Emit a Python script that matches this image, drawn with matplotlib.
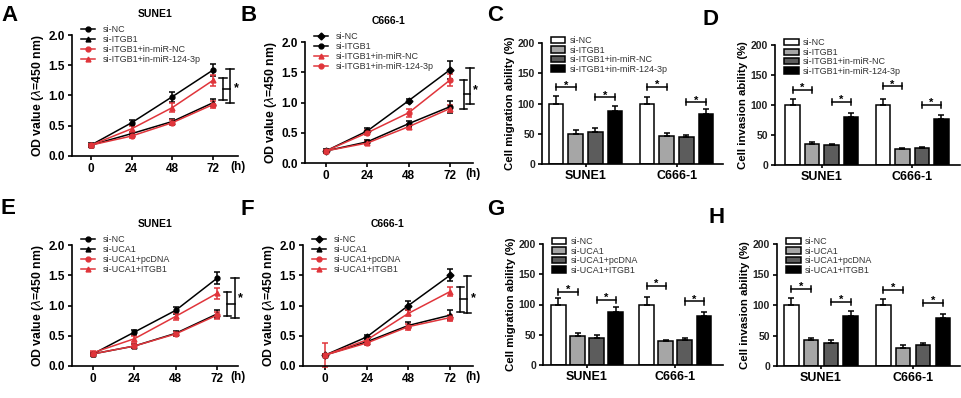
import numpy as np
import matplotlib
matplotlib.use('Agg')
import matplotlib.pyplot as plt
from matplotlib.patches import Patch
from matplotlib.lines import Line2D

plt.rcParams['font.family'] = ['Liberation Sans', 'DejaVu Sans']
plt.rcParams['axes.linewidth'] = 1.2

W, H = 962, 398
RED = '#e0353b'

hours = [0, 24, 48, 72]

# --- panel A (SUNE1, ITGB1 rescue) ---
labels_A = ['si-NC', 'si-ITGB1', 'si-ITGB1+in-miR-NC', 'si-ITGB1+in-miR-124-3p']
A_vals = [[0.18, 0.55, 0.98, 1.42],
          [0.18, 0.37, 0.57, 0.88],
          [0.18, 0.33, 0.55, 0.85],
          [0.18, 0.45, 0.80, 1.25]]
A_errs = [[0.03, 0.04, 0.08, 0.10],
          [0.02, 0.03, 0.04, 0.06],
          [0.02, 0.03, 0.04, 0.06],
          [0.02, 0.05, 0.08, 0.09]]

# --- panel B (C666-1) ---
B_vals = [[0.20, 0.53, 1.03, 1.54],
          [0.20, 0.35, 0.65, 0.93],
          [0.20, 0.33, 0.60, 0.90],
          [0.20, 0.50, 0.83, 1.37]]
B_errs = [[0.03, 0.05, 0.03, 0.15],
          [0.02, 0.03, 0.05, 0.10],
          [0.02, 0.03, 0.04, 0.06],
          [0.02, 0.04, 0.07, 0.10]]

# --- panel E (SUNE1, UCA1) ---
labels_E = ['si-NC', 'si-UCA1', 'si-UCA1+pcDNA', 'si-UCA1+ITGB1']
E_vals = [[0.20, 0.56, 0.92, 1.45],
          [0.20, 0.33, 0.54, 0.86],
          [0.20, 0.33, 0.53, 0.84],
          [0.22, 0.45, 0.82, 1.20]]
E_errs = [[0.02, 0.04, 0.06, 0.10],
          [0.02, 0.03, 0.04, 0.06],
          [0.03, 0.03, 0.04, 0.06],
          [0.02, 0.05, 0.06, 0.09]]

# --- panel F (C666-1, UCA1) ---
F_vals = [[0.18, 0.48, 1.00, 1.50],
          [0.18, 0.40, 0.67, 0.84],
          [0.18, 0.38, 0.65, 0.80],
          [0.18, 0.43, 0.87, 1.23]]
F_errs = [[0.02, 0.04, 0.07, 0.10],
          [0.02, 0.03, 0.05, 0.08],
          [0.20, 0.03, 0.05, 0.05],
          [0.02, 0.04, 0.05, 0.08]]

# significance brackets for line panels: (x_inner, lo, hi), (x_outer, lo, hi), star (x, y)
A_br = [(78, 0.93, 1.29), (82, 0.88, 1.44), (85.6, 1.12)]
B_br = [(80, 0.90, 1.37), (83.5, 0.97, 1.57), (86.5, 1.20)]
E_br = [(78, 0.83, 1.23), (82.5, 0.80, 1.45), (85.5, 1.12)]
F_br = [(78, 0.90, 1.30), (82, 0.87, 1.48), (85.5, 1.12)]

# --- bar panels ---
cells = ['SUNE1', 'C666-1']
C_vals = [[100, 50, 53, 88], [100, 46, 44, 83]]
C_errs = [[12, 6, 6, 8], [10, 5, 4, 8]]
C_sig = [[127, 110], [128, 102]]
D_vals = [[100, 35, 33, 80], [100, 26, 28, 76]]
D_errs = [[10, 3, 2, 7], [10, 2, 2, 7]]
D_sig = [[125, 105], [131, 100]]
G_vals = [[100, 48, 45, 88], [100, 39, 42, 81]]
G_errs = [[10, 5, 4, 8], [12, 3, 3, 7]]
G_sig = [[121, 108], [131, 105]]
H_vals = [[100, 43, 38, 82], [100, 30, 35, 78]]
H_errs = [[12, 3, 4, 8], [10, 4, 3, 7]]
H_sig = [[126, 105], [125, 103]]

bar_colors = ['white', '#a6a6a6', '#5c5c5c', 'black']

fig = plt.figure(figsize=(W / 100, H / 100), dpi=100)


def px_axes(l, t, r, b):
    return fig.add_axes([l / W, 1 - b / H, (r - l) / W, (b - t) / H])


def style_axes(ax):
    for s in ['top', 'right']:
        ax.spines[s].set_visible(False)
    ax.tick_params(direction='out', length=3, width=1.2, pad=2)


def line_panel(ax, title, labels, vals, errs, br, xlim, markers):
    style_axes(ax)
    colors = ['black', 'black', RED, RED]
    handles = []
    for i in range(4):
        ax.errorbar(hours, vals[i], yerr=errs[i], color=colors[i], marker=markers[i],
                    ms=3.5, lw=1.1, elinewidth=1.1, capsize=2, capthick=1.1, clip_on=False)
        handles.append(Line2D([0], [0], color=colors[i], marker=markers[i], ms=3.5, lw=1.1))
    ax.set_xlim(*xlim)
    ax.set_ylim(0, 2.0)
    ax.set_xticks(hours)
    ax.set_yticks([0, 0.5, 1.0, 1.5, 2.0])
    ax.set_yticklabels(['0.0', '0.5', '1.0', '1.5', '2.0'])
    for t in ax.get_xticklabels() + ax.get_yticklabels():
        t.set_fontweight('bold')
        t.set_fontsize(8.5)
    ax.set_ylabel('OD value ($\\lambda$=450 nm)', fontsize=8.8, fontweight='bold', labelpad=2)
    ax.text(1.0, -0.045, '(h)', transform=ax.transAxes, fontsize=8.5, fontweight='bold',
            ha='center', va='top')
    ax.set_title(title, fontsize=7.5, fontweight='bold', pad=13)
    ax.legend(handles, labels, loc='upper left', bbox_to_anchor=(0.02, 1.13), frameon=False,
              fontsize=6.5, handlelength=1.6, handletextpad=0.8, labelspacing=0.12,
              borderpad=0.1, labelcolor='#333333')
    (xi, lo1, hi1), (xo, lo2, hi2), (xs, ys) = br
    cw = 2.2
    kw = dict(color='black', lw=1.1, clip_on=False)
    ax.plot([xi, xi], [lo1, hi1], **kw)
    ax.plot([xi - cw, xi + cw], [lo1, lo1], **kw)
    ax.plot([xi - cw, xi + cw], [hi1, hi1], **kw)
    ax.plot([xi, xo], [(lo1 + hi1) / 2] * 2, **kw)
    ax.plot([xo, xo], [lo2, hi2], **kw)
    ax.plot([xo - cw, xo + cw], [lo2, lo2], **kw)
    ax.plot([xo - cw, xo + cw], [hi2, hi2], **kw)
    ax.text(xs, ys, '*', fontsize=9, fontweight='bold', ha='center', va='center')


def bar_panel(ax, ylabel, labels, vals, errs, sig, xlim):
    style_axes(ax)
    step, width = 0.216, 0.16
    for g in range(2):
        for i in range(4):
            x = g + (i - 1.5) * step
            ax.bar(x, vals[g][i], width=width, color=bar_colors[i], edgecolor='black', lw=1.1)
            ax.errorbar(x, vals[g][i], yerr=[[0], [errs[g][i]]], color='black',
                        lw=1.1, capsize=2, capthick=1.1)
        for k, (a, b) in enumerate([(0, 1), (2, 3)]):
            x1 = g + (a - 1.5) * step
            x2 = g + (b - 1.5) * step
            y = sig[g][k]
            ax.plot([x1, x2], [y, y], color='black', lw=1.1)
            ax.plot([x1, x1], [y - 5, y + 5], color='black', lw=1.1)
            ax.plot([x2, x2], [y - 5, y + 5], color='black', lw=1.1)
            ax.text((x1 + x2) / 2, y + 3, '*', fontsize=8, fontweight='bold',
                    ha='center', va='center')
    ax.set_xlim(*xlim)
    ax.set_ylim(0, 200)
    ax.set_yticks([0, 50, 100, 150, 200])
    ax.set_xticks([0, 1])
    ax.set_xticklabels(cells, fontsize=9, fontweight='bold')
    ax.tick_params(axis='x', length=2)
    for t in ax.get_yticklabels():
        t.set_fontsize(7.5)
        t.set_fontweight('bold')
        t.set_color('#222222')
    ax.set_ylabel(ylabel, fontsize=8.2, fontweight='bold', labelpad=2)
    handles = [Patch(facecolor=c, edgecolor='black', lw=1.1) for c in bar_colors]
    ax.legend(handles, labels, loc='upper left', bbox_to_anchor=(0.02, 1.1), frameon=False,
              fontsize=6.5, handlelength=1.6, handleheight=0.7, handletextpad=0.5,
              labelspacing=0.05, borderpad=0.1, labelcolor='#333333')


axA = px_axes(72, 35, 238, 156)
line_panel(axA, 'SUNE1', labels_A, A_vals, A_errs, A_br, (-11.2, 86.8), ['o', '^', 'o', '^'])
axB = px_axes(305, 42, 473, 163)
line_panel(axB, 'C666-1', labels_A, B_vals, B_errs, B_br, (-12.2, 85.4), ['D', 'o', '^', 'o'])
axE = px_axes(72, 245, 238, 366)
line_panel(axE, 'SUNE1', labels_E, E_vals, E_errs, E_br, (-12.2, 84.2), ['o', '^', 'o', '^'])
axF = px_axes(303, 245, 473, 366)
line_panel(axF, 'C666-1', labels_E, F_vals, F_errs, F_br, (-12.7, 85.2), ['D', '^', 'o', '^'])

axC = px_axes(542, 43, 723, 164)
bar_panel(axC, 'Cell migration ability (%)', labels_A, C_vals, C_errs, C_sig, (-0.478, 1.51))
axD = px_axes(775, 45, 960, 165)
bar_panel(axD, 'Cell invasion ability (%)', labels_A, D_vals, D_errs, D_sig, (-0.52, 1.53))
axG = px_axes(543, 244, 723, 365)
bar_panel(axG, 'Cell migration ability (%)', labels_E, G_vals, G_errs, G_sig, (-0.5, 1.545))
axH = px_axes(777, 244, 960, 366)
bar_panel(axH, 'Cell invasion ability (%)', labels_E, H_vals, H_errs, H_sig, (-0.478, 1.51))

letters = [('A', 1, 5), ('B', 241, 5), ('C', 487, 5), ('D', 703, 9),
           ('E', 1, 198), ('F', 241, 199), ('G', 487, 199), ('H', 709, 207)]
for s, x, y in letters:
    fig.text(x / W, 1 - y / H, s, fontsize=16, fontweight='bold', va='top', ha='left')

fig.savefig('out.png', dpi=100)
